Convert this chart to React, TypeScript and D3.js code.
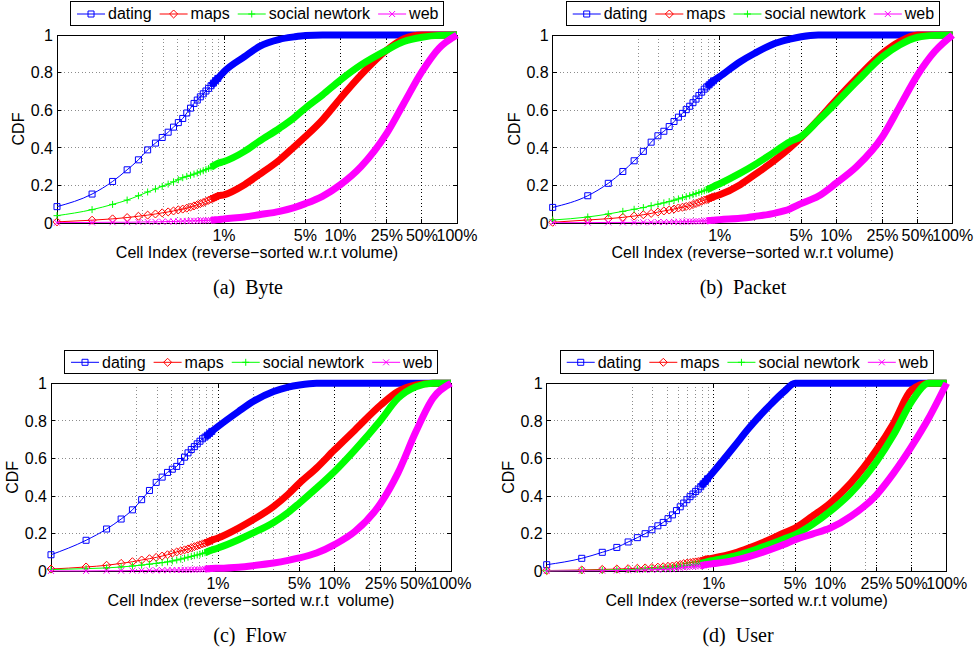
import React, { useEffect, useRef } from "react";
import * as d3 from "d3";

// total number of cells (x axis runs from cell 1 to cell N, shown as %)
const N_CELLS = 2714;
// individual markers at the first cell indices, then readings along the curve in %
const markerIdx = [1, 2, 3, 4, 5, 6, 7, 8, 9, 10, 11, 12, 13, 14, 15, 16, 17, 18, 19, 20, 21, 22, 23, 24];
const curvePct = [1, 1.5, 2, 3, 4, 5, 7, 10, 15, 25, 35, 50, 70, 100];
const BAND_FROM = 21; // markers overlap into a solid band from here on

const tickPct = [1, 5, 10, 25, 50, 100];
const tickLabels = ["1%", "5%", "10%", "25%", "50%", "100%"];
const minorPct = [0.2, 0.3, 0.4, 0.5, 0.6, 0.7, 0.8, 0.9, 2, 3, 4, 20];
const yTicks = [0, 0.2, 0.4, 0.6, 0.8, 1];
const yTickLabels = ["0", "0.2", "0.4", "0.6", "0.8", "1"];

const seriesNames = ["dating", "maps", "social newtork", "web"];
const seriesColors = ["#0000ff", "#ff0000", "#00ff00", "#ff00ff"];

// (a) Byte
const byteDating = [0.087, 0.154, 0.221, 0.283, 0.336, 0.389, 0.425, 0.455, 0.483, 0.51, 0.534, 0.556,
  0.585, 0.611, 0.636, 0.654, 0.671, 0.687, 0.702, 0.716, 0.73, 0.744, 0.757, 0.769,
  0.805, 0.885, 0.938, 0.977, 0.99, 0.997, 1, 1, 1, 1, 1, 1, 1, 1];
const byteMaps = [0.006, 0.015, 0.022, 0.029, 0.036, 0.042, 0.048, 0.054, 0.059, 0.064, 0.07, 0.074,
  0.079, 0.085, 0.091, 0.097, 0.103, 0.109, 0.115, 0.121, 0.127, 0.132, 0.138, 0.143,
  0.15, 0.204, 0.257, 0.336, 0.405, 0.46, 0.549, 0.664, 0.788, 0.92, 0.98, 1, 1, 1];
const byteSocial = [0.039, 0.071, 0.099, 0.122, 0.145, 0.165, 0.181, 0.195, 0.207, 0.219, 0.23, 0.241,
  0.248, 0.254, 0.26, 0.266, 0.272, 0.278, 0.284, 0.29, 0.297, 0.304, 0.311, 0.317,
  0.327, 0.381, 0.434, 0.504, 0.56, 0.611, 0.681, 0.761, 0.841, 0.92, 0.965, 0.988, 0.998, 1];
const byteWeb = [0.002, 0.003, 0.004, 0.004, 0.005, 0.006, 0.006, 0.007, 0.008, 0.008, 0.009, 0.01,
  0.011, 0.011, 0.012, 0.012, 0.013, 0.013, 0.014, 0.014, 0.015, 0.016, 0.017, 0.018,
  0.022, 0.032, 0.044, 0.062, 0.082, 0.103, 0.142, 0.204, 0.3, 0.478, 0.637, 0.805, 0.929, 1];

// (b) Packet
const packetDating = [0.083, 0.145, 0.211, 0.274, 0.331, 0.381, 0.43, 0.464, 0.488, 0.513, 0.54, 0.563,
  0.583, 0.603, 0.621, 0.64, 0.659, 0.678, 0.696, 0.712, 0.724, 0.735, 0.746, 0.756,
  0.779, 0.858, 0.903, 0.956, 0.978, 0.991, 1, 1, 1, 1, 1, 1, 1, 1];
const packetMaps = [0.004, 0.016, 0.023, 0.03, 0.037, 0.044, 0.051, 0.058, 0.064, 0.069, 0.074, 0.08,
  0.084, 0.088, 0.092, 0.098, 0.104, 0.11, 0.116, 0.122, 0.125, 0.13, 0.135, 0.139,
  0.15, 0.204, 0.257, 0.336, 0.4, 0.455, 0.549, 0.655, 0.77, 0.903, 0.965, 1, 1, 1];
const packetSocial = [0.016, 0.032, 0.048, 0.062, 0.073, 0.082, 0.092, 0.1, 0.107, 0.114, 0.121, 0.128,
  0.134, 0.14, 0.145, 0.151, 0.157, 0.162, 0.167, 0.172, 0.177, 0.183, 0.188, 0.194,
  0.209, 0.265, 0.31, 0.381, 0.432, 0.46, 0.545, 0.64, 0.752, 0.885, 0.947, 0.988, 0.998, 1];
const packetWeb = [0.002, 0.002, 0.003, 0.003, 0.003, 0.004, 0.004, 0.005, 0.005, 0.005, 0.006, 0.006,
  0.007, 0.007, 0.008, 0.008, 0.009, 0.009, 0.01, 0.011, 0.012, 0.013, 0.014, 0.015,
  0.018, 0.025, 0.035, 0.053, 0.075, 0.103, 0.142, 0.212, 0.3, 0.46, 0.619, 0.788, 0.912, 1];

// (c) Flow
const flowDating = [0.088, 0.165, 0.225, 0.278, 0.327, 0.381, 0.43, 0.473, 0.501, 0.526, 0.543, 0.558,
  0.584, 0.607, 0.63, 0.648, 0.663, 0.678, 0.692, 0.705, 0.714, 0.724, 0.734, 0.744,
  0.77, 0.85, 0.903, 0.956, 0.98, 0.991, 1, 1, 1, 1, 1, 1, 1, 1];
const flowMaps = [0.012, 0.023, 0.032, 0.042, 0.051, 0.06, 0.067, 0.074, 0.081, 0.088, 0.096, 0.103,
  0.109, 0.114, 0.119, 0.126, 0.131, 0.136, 0.141, 0.146, 0.15, 0.155, 0.16, 0.165,
  0.177, 0.23, 0.274, 0.345, 0.41, 0.469, 0.549, 0.646, 0.752, 0.885, 0.956, 0.991, 1, 1];
const flowSocial = [0.009, 0.014, 0.018, 0.023, 0.028, 0.033, 0.038, 0.042, 0.046, 0.05, 0.055, 0.06,
  0.065, 0.07, 0.075, 0.079, 0.083, 0.087, 0.091, 0.095, 0.099, 0.104, 0.109, 0.113,
  0.124, 0.168, 0.204, 0.26, 0.313, 0.363, 0.442, 0.531, 0.646, 0.805, 0.92, 0.982, 1, 1];
const flowWeb = [0.002, 0.002, 0.003, 0.003, 0.004, 0.004, 0.005, 0.005, 0.006, 0.006, 0.007, 0.007,
  0.007, 0.008, 0.008, 0.009, 0.009, 0.01, 0.01, 0.011, 0.012, 0.013, 0.014, 0.015,
  0.016, 0.022, 0.03, 0.044, 0.058, 0.071, 0.097, 0.142, 0.212, 0.363, 0.522, 0.743, 0.92, 1];

// (d) User
const userDating = [0.035, 0.069, 0.101, 0.127, 0.156, 0.179, 0.2, 0.221, 0.242, 0.26, 0.28, 0.3,
  0.323, 0.343, 0.363, 0.381, 0.397, 0.411, 0.425, 0.437, 0.45, 0.465, 0.478, 0.492,
  0.531, 0.664, 0.761, 0.88, 0.955, 1, 1, 1, 1, 1, 1, 1, 1, 1];
const userMaps = [0.004, 0.007, 0.01, 0.012, 0.014, 0.016, 0.018, 0.02, 0.022, 0.024, 0.026, 0.028,
  0.032, 0.036, 0.041, 0.043, 0.046, 0.048, 0.05, 0.052, 0.055, 0.058, 0.062, 0.065,
  0.071, 0.097, 0.124, 0.168, 0.204, 0.23, 0.292, 0.363, 0.469, 0.646, 0.788, 0.965, 1, 1];
const userSocial = [0.003, 0.005, 0.006, 0.008, 0.009, 0.011, 0.012, 0.014, 0.015, 0.017, 0.018, 0.02,
  0.023, 0.027, 0.03, 0.032, 0.034, 0.036, 0.038, 0.04, 0.042, 0.045, 0.048, 0.051,
  0.058, 0.08, 0.103, 0.142, 0.172, 0.195, 0.248, 0.319, 0.416, 0.584, 0.726, 0.903, 1, 1];
const userWeb = [0.002, 0.003, 0.003, 0.004, 0.005, 0.006, 0.007, 0.008, 0.009, 0.01, 0.011, 0.012,
  0.015, 0.018, 0.02, 0.022, 0.023, 0.025, 0.026, 0.028, 0.03, 0.032, 0.035, 0.037,
  0.041, 0.058, 0.078, 0.113, 0.142, 0.168, 0.198, 0.23, 0.292, 0.407, 0.522, 0.664, 0.814, 1];

const captions = ["(a)  Byte", "(b)  Packet", "(c)  Flow", "(d)  User"];
const xTitles = [
  "Cell Index (reverse\u2212sorted w.r.t volume)",
  "Cell Index (reverse\u2212sorted w.r.t volume)",
  "Cell Index (reverse\u2212sorted w.r.t  volume)",
  "Cell Index (reverse\u2212sorted w.r.t volume)",
];

const FONT = "'Liberation Sans', Arial, Helvetica, sans-serif";
const PLOT_W = 400;
const PLOT_H = 188;

const symbolTypes = [d3.symbolSquare2, d3.symbolDiamond2, d3.symbolPlus, d3.symbolTimes];
const symbolSizes = [46, 41, 18, 25];

const drawPanel = (svg, left, top, capX, caption, xTitle, series) => {
  const L = left, T = top, R = L + PLOT_W, B = T + PLOT_H;
  const x = d3.scaleLog().domain([1, N_CELLS]).range([L, R]);
  const y = d3.scaleLinear().domain([0, 1]).range([B, T]);
  const pctX = (p) => x((p / 100) * N_CELLS);
  const g = svg.append("g");

  // grid
  g.selectAll(".hg").data(yTicks.slice(1, -1)).join("line")
    .attr("x1", L).attr("x2", R).attr("y1", (d) => y(d)).attr("y2", (d) => y(d))
    .attr("stroke", "#8c8c8c").attr("stroke-dasharray", "1,2.5").attr("shape-rendering", "crispEdges");
  g.selectAll(".mg").data(minorPct).join("line")
    .attr("x1", (d) => pctX(d)).attr("x2", (d) => pctX(d)).attr("y1", T).attr("y2", B)
    .attr("stroke", "#8c8c8c").attr("stroke-dasharray", "1,2.5").attr("shape-rendering", "crispEdges");
  g.selectAll(".vg").data(tickPct.slice(0, -1)).join("line")
    .attr("x1", (d) => pctX(d)).attr("x2", (d) => pctX(d)).attr("y1", T).attr("y2", B)
    .attr("stroke", "#000").attr("stroke-dasharray", "1,2.5").attr("shape-rendering", "crispEdges");

  // ticks (inward, both sides)
  const tk = g.append("g").attr("stroke", "#000").attr("shape-rendering", "crispEdges");
  yTicks.forEach((v) => {
    tk.append("line").attr("x1", L).attr("x2", L + 4).attr("y1", y(v)).attr("y2", y(v));
    tk.append("line").attr("x1", R - 4).attr("x2", R).attr("y1", y(v)).attr("y2", y(v));
  });
  tickPct.forEach((p) => {
    tk.append("line").attr("x1", pctX(p)).attr("x2", pctX(p)).attr("y1", B).attr("y2", B - 4);
    tk.append("line").attr("x1", pctX(p)).attr("x2", pctX(p)).attr("y1", T).attr("y2", T + 4);
  });

  g.append("rect").attr("x", L).attr("y", T).attr("width", PLOT_W).attr("height", PLOT_H)
    .attr("fill", "none").attr("stroke", "#000").attr("shape-rendering", "crispEdges");

  // tick labels
  g.selectAll(".yl").data(yTicks).join("text")
    .attr("x", L - 4).attr("y", (d) => y(d)).attr("dy", "0.36em")
    .attr("text-anchor", "end").attr("font-family", FONT).attr("font-size", 16)
    .text((d, i) => yTickLabels[i]);
  g.selectAll(".xl").data(tickPct).join("text")
    .attr("x", (d) => pctX(d)).attr("y", B + 18)
    .attr("text-anchor", "middle").attr("font-family", FONT).attr("font-size", 16)
    .text((d, i) => tickLabels[i]);

  g.append("text").attr("x", (L + R) / 2).attr("y", B + 35)
    .attr("text-anchor", "middle").attr("font-family", FONT).attr("font-size", 16)
    .style("white-space", "pre").text(xTitle);
  g.append("text").attr("transform", `translate(${L - 33},${(T + B) / 2}) rotate(-90)`)
    .attr("text-anchor", "middle").attr("font-family", FONT).attr("font-size", 16).text("CDF");
  g.append("text").attr("x", capX).attr("y", B + 71)
    .attr("text-anchor", "middle").attr("font-family", "'Liberation Serif', 'Times New Roman', serif")
    .attr("font-size", 20).style("white-space", "pre").text(caption);

  // series
  const xs = [...markerIdx, ...curvePct.map((p) => (p / 100) * N_CELLS)];
  const line = d3.line().x((d) => x(d[0])).y((d) => y(d[1])).curve(d3.curveMonotoneX);
  series.forEach((vals, s) => {
    const pts = xs.map((xi, j) => [xi, vals[j]]);
    const sg = g.append("g");
    sg.append("path").attr("d", line(pts)).attr("fill", "none")
      .attr("stroke", seriesColors[s]).attr("stroke-width", 1);
    // dense markers merge into a thick band
    sg.append("path").attr("d", line(pts.slice(BAND_FROM - 1))).attr("fill", "none")
      .attr("stroke", seriesColors[s]).attr("stroke-width", 7).attr("stroke-linejoin", "round");
    const sym = d3.symbol().type(symbolTypes[s]).size(symbolSizes[s]);
    sg.selectAll("path.m").data(pts.slice(0, markerIdx.length)).join("path")
      .attr("class", "m")
      .attr("transform", (d) => `translate(${x(d[0])},${y(d[1])})`)
      .attr("d", sym()).attr("fill", "none").attr("stroke", seriesColors[s]).attr("stroke-width", 1);
  });

  // legend
  const lg = g.append("g");
  let cx = 6.5;
  seriesNames.forEach((name, s) => {
    lg.append("line").attr("x1", cx).attr("x2", cx + 28).attr("y1", 12.3).attr("y2", 12.3)
      .attr("stroke", seriesColors[s]).attr("stroke-width", 1);
    lg.append("path").attr("transform", `translate(${cx + 14},12.3)`)
      .attr("d", d3.symbol().type(symbolTypes[s]).size(symbolSizes[s])())
      .attr("fill", "none").attr("stroke", seriesColors[s]);
    const t = lg.append("text").attr("x", cx + 31).attr("y", 17.5)
      .attr("font-family", FONT).attr("font-size", 16).text(name);
    cx += 31 + t.node().getComputedTextLength() + 8;
  });
  const lw = cx - 8 + 5;
  lg.insert("rect", ":first-child").attr("x", 0).attr("y", 0).attr("width", lw).attr("height", 23.3)
    .attr("fill", "#fff").attr("stroke", "#000").attr("shape-rendering", "crispEdges");
  lg.attr("transform", `translate(${(L + R) / 2 - lw / 2},${T - 33.3})`);
};

const App = () => {
  const svgRef = useRef(null);

  useEffect(() => {
    document.body.style.margin = "0";
    const svg = d3.select(svgRef.current);
    svg.selectAll("*").remove();

    drawPanel(svg, 57, 35, 248, captions[0], xTitles[0], [byteDating, byteMaps, byteSocial, byteWeb]);
    drawPanel(svg, 552.7, 35, 743, captions[1], xTitles[1], [packetDating, packetMaps, packetSocial, packetWeb]);
    drawPanel(svg, 51, 383.3, 250, captions[2], xTitles[2], [flowDating, flowMaps, flowSocial, flowWeb]);
    drawPanel(svg, 546.7, 383.3, 738, captions[3], xTitles[3], [userDating, userMaps, userSocial, userWeb]);
  }, []);

  return <svg ref={svgRef} width={976} height={651} style={{ display: "block", background: "#fff" }} />;
};

export default App;
